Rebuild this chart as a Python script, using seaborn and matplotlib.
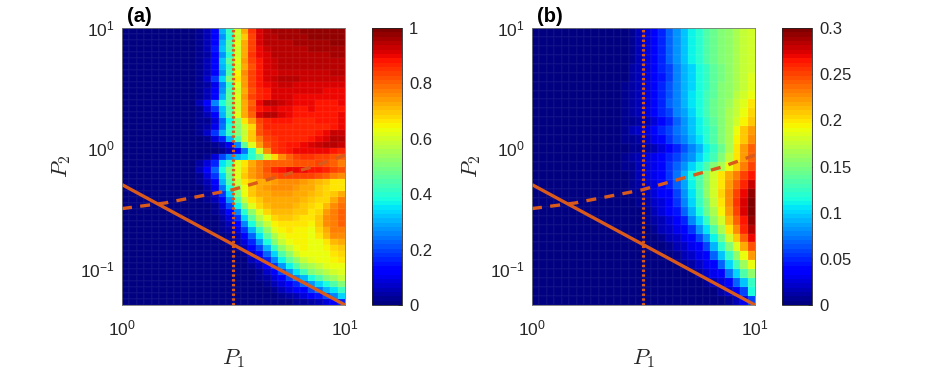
import matplotlib
matplotlib.use("Agg")
import matplotlib.pyplot as plt
import numpy as np
import seaborn as sns
from matplotlib.ticker import LogLocator, NullFormatter

sns.set_theme(style="white")
plt.rcParams["font.family"] = ["Liberation Sans", "DejaVu Sans"]
plt.rcParams["mathtext.fontset"] = "cm"

TEXT = "#262626"
LINE = "#D95A1A"

# panel (a): percent of full scale, top row first, for columns 10..29 of 30
a_rows = [
    [2, 5, 13, 30, 42, 60, 72, 85, 92, 95, 96, 96, 96, 96, 97, 97, 97, 97, 97, 97],
    [2, 5, 12, 28, 40, 58, 70, 84, 91, 94, 95, 96, 96, 96, 96, 97, 97, 97, 97, 97],
    [2, 5, 14, 30, 44, 62, 72, 84, 91, 94, 95, 95, 95, 96, 96, 96, 96, 96, 97, 97],
    [2, 6, 15, 32, 44, 60, 73, 84, 90, 93, 94, 95, 95, 95, 95, 96, 96, 96, 96, 96],
    [2, 4, 12, 28, 40, 60, 73, 85, 90, 92, 94, 94, 95, 95, 95, 95, 95, 95, 96, 96],
    [3, 6, 14, 32, 46, 62, 74, 84, 89, 92, 93, 94, 94, 94, 95, 95, 95, 95, 95, 95],
    [3, 6, 14, 30, 42, 60, 72, 82, 88, 91, 93, 94, 94, 94, 94, 94, 94, 94, 94, 94],
    [3, 6, 12, 28, 45, 65, 75, 83, 88, 91, 92, 93, 93, 93, 93, 93, 93, 93, 94, 94],
    [3, 7, 18, 34, 50, 66, 74, 84, 88, 91, 93, 94, 94, 94, 93, 93, 93, 93, 93, 93],
    [2, 4, 10, 25, 42, 62, 74, 83, 88, 90, 92, 93, 93, 92, 92, 92, 92, 92, 92, 92],
    [2, 5, 12, 28, 44, 60, 72, 82, 87, 89, 91, 92, 92, 92, 92, 91, 91, 90, 90, 90],
    [3, 6, 14, 30, 46, 62, 74, 83, 87, 89, 91, 91, 91, 90, 90, 90, 90, 90, 90, 90],
    [5, 12, 26, 38, 48, 60, 72, 80, 90, 94, 95, 93, 91, 90, 90, 90, 89, 89, 89, 90],
    [3, 8, 18, 32, 44, 60, 72, 82, 88, 90, 91, 90, 90, 89, 89, 90, 89, 89, 88, 88],
    [2, 5, 12, 30, 44, 62, 72, 80, 92, 95, 95, 92, 90, 89, 89, 88, 88, 88, 88, 90],
    [2, 3, 8, 22, 36, 52, 66, 74, 83, 87, 88, 88, 88, 87, 87, 87, 88, 88, 89, 90],
    [2, 4, 10, 24, 40, 50, 60, 68, 82, 86, 87, 87, 87, 86, 86, 86, 87, 87, 88, 90],
    [3, 7, 18, 30, 42, 50, 58, 70, 82, 85, 86, 86, 86, 86, 86, 87, 88, 90, 93, 93],
    [1, 3, 8, 16, 30, 44, 60, 70, 78, 83, 85, 86, 86, 86, 87, 88, 90, 92, 94, 94],
    [0, 1, 2, 6, 10, 26, 46, 62, 74, 82, 85, 87, 88, 88, 90, 91, 93, 94, 94, 93],
    [0, 0, 1, 3, 6, 12, 24, 40, 60, 76, 85, 86, 88, 90, 90, 90, 90, 90, 88, 87],
    [1, 3, 8, 20, 28, 30, 34, 40, 48, 60, 68, 76, 80, 84, 85, 85, 84, 83, 82, 80],
    [4, 8, 16, 35, 42, 62, 66, 72, 78, 80, 80, 81, 81, 82, 82, 82, 83, 82, 80, 78],
    [5, 12, 22, 38, 50, 62, 68, 74, 78, 82, 86, 88, 90, 90, 90, 89, 88, 86, 84, 82],
    [3, 8, 18, 34, 48, 62, 70, 74, 78, 80, 82, 83, 84, 84, 84, 83, 82, 80, 78, 76],
    [2, 6, 14, 30, 44, 58, 66, 70, 72, 73, 74, 75, 75, 75, 74, 73, 71, 69, 67, 66],
    [1, 4, 10, 24, 38, 54, 64, 70, 73, 74, 75, 75, 75, 74, 73, 72, 70, 68, 67, 67],
    [1, 3, 7, 18, 34, 50, 63, 69, 72, 73, 74, 74, 74, 73, 72, 71, 69, 68, 70, 73],
    [0, 2, 5, 13, 28, 44, 58, 66, 70, 72, 73, 73, 73, 73, 71, 70, 68, 68, 73, 77],
    [0, 1, 3, 9, 20, 36, 50, 61, 68, 71, 72, 72, 72, 71, 70, 68, 67, 71, 75, 79],
    [0, 1, 2, 6, 13, 26, 40, 53, 62, 68, 71, 71, 71, 70, 69, 67, 68, 74, 78, 80],
    [0, 0, 1, 4, 9, 18, 33, 46, 57, 64, 68, 69, 69, 68, 67, 66, 69, 75, 78, 80],
    [0, 0, 1, 3, 6, 13, 25, 38, 50, 59, 65, 67, 67, 67, 66, 65, 69, 75, 78, 80],
    [0, 0, 0, 2, 4, 9, 18, 30, 42, 53, 61, 65, 66, 65, 65, 64, 68, 73, 77, 78],
    [0, 0, 0, 1, 3, 6, 12, 23, 35, 46, 56, 62, 65, 65, 65, 64, 66, 71, 75, 76],
    [0, 0, 0, 0, 2, 4, 8, 16, 27, 39, 50, 58, 63, 65, 65, 64, 64, 67, 71, 73],
    [0, 0, 0, 0, 1, 2, 5, 11, 20, 30, 42, 52, 59, 63, 65, 64, 64, 65, 68, 70],
    [0, 0, 0, 0, 0, 1, 3, 7, 14, 23, 33, 44, 53, 60, 63, 64, 64, 64, 66, 68],
    [0, 0, 0, 0, 0, 0, 1, 5, 9, 16, 25, 36, 46, 53, 58, 62, 63, 64, 65, 66],
    [0, 0, 0, 0, 0, 0, 0, 2, 6, 11, 18, 27, 36, 45, 52, 56, 59, 61, 63, 64],
    [0, 0, 0, 0, 0, 0, 0, 1, 3, 7, 12, 19, 27, 35, 43, 50, 54, 57, 60, 61],
    [0, 0, 0, 0, 0, 0, 0, 0, 2, 4, 8, 12, 19, 26, 31, 38, 44, 50, 54, 58],
    [0, 0, 0, 0, 0, 0, 0, 0, 1, 2, 5, 8, 12, 17, 22, 28, 33, 39, 45, 50],
    [0, 0, 0, 0, 0, 0, 0, 0, 0, 1, 3, 5, 8, 11, 14, 19, 24, 30, 35, 42],
    [0, 0, 0, 0, 0, 0, 0, 0, 0, 0, 1, 2, 4, 6, 8, 11, 15, 20, 25, 33],
    [0, 0, 0, 0, 0, 0, 0, 0, 0, 0, 0, 0, 1, 2, 3, 4, 6, 9, 12, 16],
]

# panel (b): percent of 0.3, top row first, listed from the right edge leftwards
b_rows = [
    [60, 58, 55, 53, 50, 47, 44, 40, 36, 32, 27, 22, 17, 12, 9, 6, 3],
    [60, 58, 55, 53, 50, 47, 44, 40, 36, 32, 27, 22, 17, 12, 9, 6, 3],
    [60, 58, 55, 53, 50, 47, 44, 40, 36, 32, 27, 22, 17, 12, 9, 6, 3],
    [60, 58, 55, 53, 50, 47, 44, 40, 36, 32, 27, 22, 17, 12, 9, 6, 3],
    [60, 58, 55, 52, 49, 46, 42, 38, 34, 30, 25, 20, 16, 12, 8, 6, 4],
    [61, 58, 55, 52, 49, 46, 42, 38, 34, 30, 25, 20, 15, 11, 9, 6, 4],
    [62, 59, 56, 53, 50, 46, 42, 38, 34, 30, 26, 21, 16, 12, 9, 6, 4, 2],
    [63, 60, 57, 53, 50, 46, 43, 39, 35, 30, 26, 21, 17, 12, 8, 6, 4, 2],
    [66, 62, 58, 54, 50, 47, 43, 39, 35, 30, 26, 22, 17, 13, 9, 6, 4, 2],
    [68, 63, 59, 55, 51, 47, 43, 38, 34, 29, 25, 20, 16, 12, 8, 5, 4, 2],
    [70, 65, 60, 55, 50, 46, 42, 37, 32, 27, 22, 17, 13, 9, 6, 4, 3, 2],
    [74, 70, 63, 56, 50, 45, 40, 36, 32, 28, 24, 20, 17, 14, 9, 7, 5, 3],
    [76, 70, 65, 56, 50, 45, 40, 35, 30, 26, 22, 18, 13, 10, 7, 4, 3, 2],
    [80, 74, 66, 55, 47, 42, 36, 31, 26, 21, 17, 12, 9, 6, 4, 3, 2],
    [80, 74, 66, 58, 50, 43, 38, 33, 28, 24, 20, 16, 13, 10, 8, 5, 4, 2],
    [83, 78, 70, 63, 56, 50, 44, 38, 33, 28, 23, 18, 13, 10, 8, 5, 3, 2],
    [88, 83, 78, 72, 66, 60, 53, 45, 38, 31, 24, 18, 13, 10, 8, 5, 3],
    [93, 87, 81, 74, 67, 60, 52, 44, 36, 29, 22, 16, 12, 9, 7, 4, 3],
    [97, 90, 84, 76, 68, 60, 52, 43, 35, 28, 20, 14, 11, 8, 5, 3, 2],
    [100, 92, 85, 76, 67, 58, 49, 41, 33, 25, 18, 12, 9, 7, 4, 2],
    [100, 91, 84, 74, 65, 56, 47, 38, 30, 22, 15, 11, 8, 5, 3],
    [97, 89, 81, 71, 60, 52, 42, 33, 25, 17, 12, 9, 6, 4, 2],
    [94, 86, 76, 66, 55, 45, 35, 27, 18, 13, 10, 7, 5, 3],
    [90, 80, 70, 60, 48, 37, 28, 20, 13, 10, 7, 5, 3],
    [82, 72, 62, 50, 40, 30, 20, 13, 10, 7, 5, 3],
    [74, 64, 53, 42, 32, 22, 13, 10, 7, 5, 3],
    [63, 54, 43, 33, 22, 14, 10, 7, 4, 3],
    [53, 45, 33, 24, 13, 10, 7, 4],
    [42, 32, 22, 13, 9, 5, 3],
    [38, 20, 12, 7, 4],
    [20, 10, 6, 3],
]

panels = ["(a)", "(b)"]
a_ticks = [0, 0.2, 0.4, 0.6, 0.8, 1]
a_labels = ["0", "0.2", "0.4", "0.6", "0.8", "1"]
b_ticks = [0, 0.05, 0.1, 0.15, 0.2, 0.25, 0.3]
b_labels = ["0", "0.05", "0.1", "0.15", "0.2", "0.25", "0.3"]

p1_range = [1, 10]
p2_range = [0.05, 10]
solid_p2 = [0.5, 0.05]
dashed_p1 = [1, 1.56, 3.11, 7.1, 10]
dashed_p2 = [0.316, 0.352, 0.452, 0.70, 0.88]
dotted_p1 = [3.162, 3.162]


def grid_a():
    out = np.zeros((len(a_rows), 30))
    for i, row in enumerate(a_rows):
        out[i, 10:] = np.array(row) / 100
    return out


def grid_b():
    out = np.zeros((len(b_rows), 30))
    for i, row in enumerate(b_rows):
        out[i, 30 - len(row):] = np.array(row[::-1]) * 0.3 / 100
    return out


def draw_panel(fig, left, matrix, vmax, ticks, labels, title):
    W, H = 934, 374
    pos = [left / W, 1 - 305 / H, 223 / W, 277 / H]
    ax = fig.add_axes(pos)
    cax = fig.add_axes([(left + 250) / W, 1 - 305 / H, 30 / W, 277 / H])
    sns.heatmap(matrix, ax=ax, cbar_ax=cax, cmap=plt.get_cmap("jet", 64), vmin=0, vmax=vmax,
                xticklabels=False, yticklabels=False, cbar_kws={"ticks": ticks},
                linewidths=0.2, linecolor=(1, 1, 1, 0.03))
    cax.set_yticklabels(labels)
    cax.tick_params(axis="y", direction="in", length=3, width=0.6, color=TEXT,
                    labelsize=12, labelcolor=TEXT, pad=5, right=True)
    cbar_frame = ax.collections[0].colorbar.outline
    cbar_frame.set_visible(True)
    cbar_frame.set_edgecolor(TEXT)
    cbar_frame.set_linewidth(0.6)

    # log axes on top of the heatmap cells
    over = fig.add_axes(pos, facecolor="none")
    over.set_xscale("log")
    over.set_yscale("log")
    over.set_xlim(p1_range)
    over.set_ylim(p2_range)
    over.plot(p1_range, solid_p2, color=LINE, lw=2.4, solid_capstyle="butt")
    over.plot(dashed_p1, dashed_p2, color=LINE, lw=2.4, ls=(0, (3.0, 2.5)))
    over.plot(dotted_p1, p2_range, color=LINE, lw=2.3, ls=(0, (0.75, 0.75)))
    over.xaxis.set_major_locator(LogLocator(base=10, numticks=5))
    over.yaxis.set_major_locator(LogLocator(base=10, numticks=5))
    over.xaxis.set_minor_locator(LogLocator(base=10, subs=np.arange(2, 10), numticks=5))
    over.yaxis.set_minor_locator(LogLocator(base=10, subs=np.arange(2, 10), numticks=5))
    over.xaxis.set_minor_formatter(NullFormatter())
    over.yaxis.set_minor_formatter(NullFormatter())
    over.tick_params(which="major", direction="in", length=3, width=0.6, color=TEXT,
                     labelsize=12.5, labelcolor=TEXT)
    over.tick_params(which="minor", direction="in", length=1.5, width=0.4, color=TEXT)
    over.tick_params(axis="x", which="major", pad=10)
    over.tick_params(axis="y", which="major", pad=5)
    for spine in over.spines.values():
        spine.set_linewidth(0.6)
        spine.set_color("#777777")
    over.set_xlabel("$P_1$", fontsize=16, color=TEXT, labelpad=6)
    over.set_ylabel("$P_2$", fontsize=16, color=TEXT, labelpad=5)
    fig.text((left + 5) / W, 1 - 16 / H, title, fontsize=14.5, fontweight="bold",
             color="black", va="center", ha="left")


fig = plt.figure(figsize=(9.34, 3.74), dpi=100)
draw_panel(fig, 122, grid_a(), 1, a_ticks, a_labels, panels[0])
draw_panel(fig, 532, grid_b(), 0.3, b_ticks, b_labels, panels[1])
fig.savefig("out.png", dpi=100)
plt.close(fig)
